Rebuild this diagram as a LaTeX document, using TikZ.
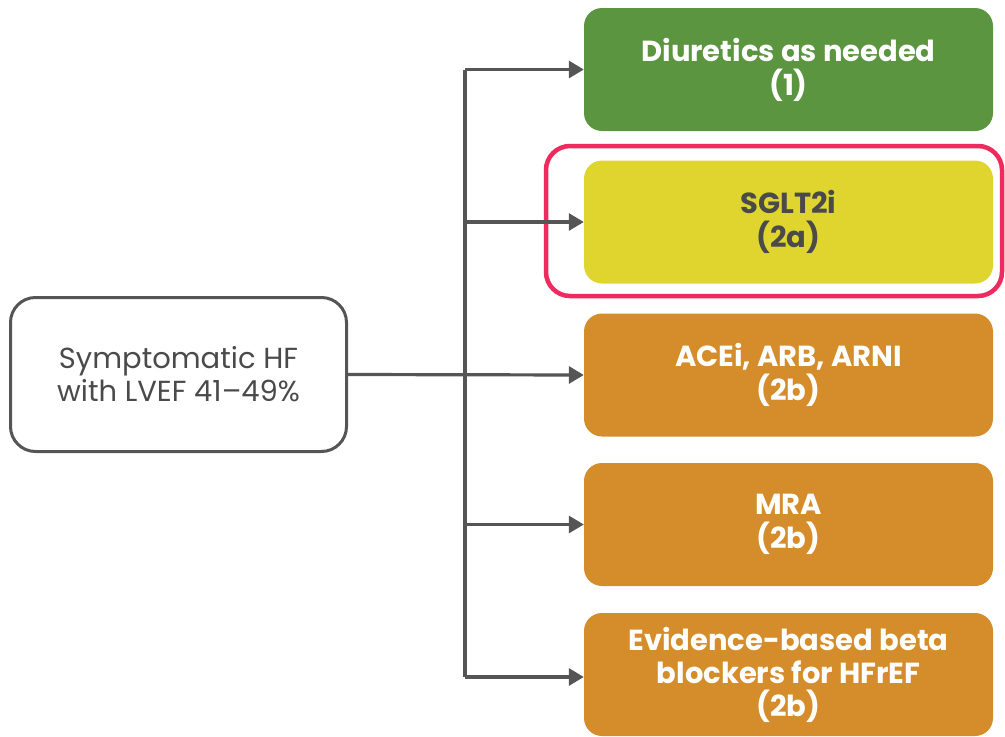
\documentclass[tikz,border=0pt]{standalone}
\usepackage{fontspec}
\setmainfont{Poppins}
\usetikzlibrary{arrows.meta}
\definecolor{cgreen}{HTML}{5B953F}
\definecolor{cyellow}{HTML}{E0D52F}
\definecolor{corange}{HTML}{D58C2A}
\definecolor{cpink}{HTML}{EE2A5E}
\definecolor{cgray}{HTML}{555555}
\definecolor{ctext}{HTML}{4A4A4A}
\tikzset{
  rbox/.style={rounded corners=18pt, minimum width=409pt, minimum height=123pt, align=center,
    font=\fontsize{29}{34}\selectfont\bfseries, text=white, inner sep=0pt},
  conn/.style={draw=cgray, line width=3.2pt, -{Triangle[length=15pt,width=17pt]}},
}
\begin{document}
\begin{tikzpicture}[x=1pt,y=-1pt]
\useasboundingbox (0,0) rectangle (1005,737);
\node[draw=cgray, line width=3pt, rounded corners=25pt, minimum width=336pt, minimum height=154pt,
  align=center, font=\fontsize{29}{33}\selectfont, text=ctext, inner sep=0pt] (L) at (178.5,374.5)
  {Symptomatic HF\\with LVEF 41--49\%};
\node[rbox, fill=cgreen] (r1) at (788.5,69.5) {Diuretics as needed\\(1)};
\node[rbox, fill=cyellow, text=ctext] (r2) at (788.5,222) {SGLT2i\\(2a)};
\node[draw=cpink, line width=4.5pt, rounded corners=24pt, minimum width=456pt, minimum height=150pt] (hl) at (774,221) {};
\node[rbox, fill=corange] (r3) at (788.5,375) {ACEi, ARB, ARNI\\(2b)};
\node[rbox, fill=corange] (r4) at (788.5,524.5) {MRA\\(2b)};
\node[rbox, fill=corange, font=\fontsize{29}{33}\selectfont\bfseries] (r5) at (788.5,674.5) {Evidence-based beta\\blockers for HFrEF\\(2b)};
\coordinate (t1) at (465,69.5);
\coordinate (t5) at (465,677);
\draw[draw=cgray, line width=3.2pt] (t1) -- (t5);
\draw[conn] (L.east) -- (r3.west);
\draw[conn] (t1) -- (r1.west);
\draw[conn] (t1 |- r2.west) -- (r2.west);
\draw[conn] (t1 |- r4.west) -- (r4.west);
\draw[conn] (t5) -- (r5.west |- t5);
\end{tikzpicture}
\end{document}
